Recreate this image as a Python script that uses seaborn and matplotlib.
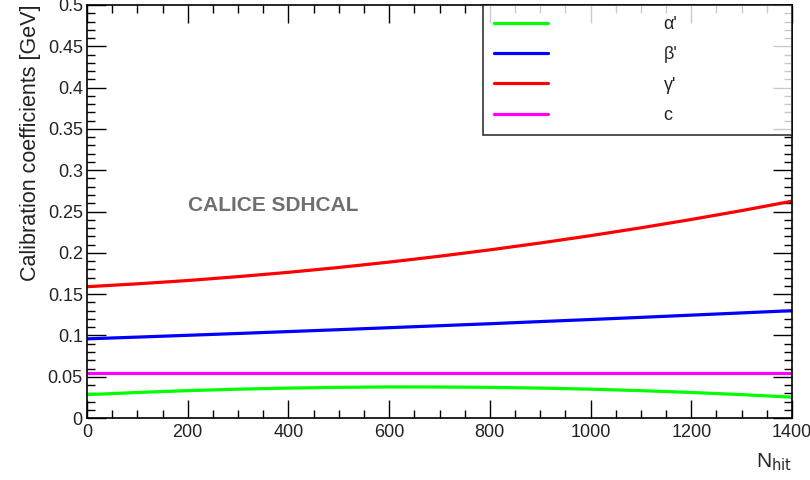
import matplotlib
matplotlib.use('Agg')
import matplotlib.pyplot as plt
from matplotlib.ticker import MultipleLocator
from matplotlib.lines import Line2D
import numpy as np
import pandas as pd
import seaborn as sns

# values
n_hit = [0, 100, 200, 300, 400, 500, 600, 700, 800, 900, 1000, 1100, 1200, 1300, 1400]
alpha = [0.0283, 0.0310, 0.0332, 0.0350, 0.0363, 0.0372, 0.0377, 0.0376,
         0.0372, 0.0363, 0.0350, 0.0332, 0.0310, 0.0284, 0.0253]
beta = [0.0959, 0.0980, 0.1002, 0.1024, 0.1047, 0.1070, 0.1094, 0.1118,
        0.1142, 0.1168, 0.1193, 0.1219, 0.1246, 0.1273, 0.1300]
gamma = [0.1590, 0.1625, 0.1665, 0.1712, 0.1764, 0.1823, 0.1888, 0.1959,
         0.2036, 0.2119, 0.2208, 0.2303, 0.2404, 0.2511, 0.2625]
c_const = [0.0549] * len(n_hit)

names = ["α'", "β'", "γ'", "c"]
colors = ['#00ff00', '#0000ff', '#ff0000', '#ff00ff']

df = pd.DataFrame({'N': n_hit, names[0]: alpha, names[1]: beta,
                   names[2]: gamma, names[3]: c_const})
dfm = df.melt('N', var_name='coef', value_name='value')

sns.set_style('ticks')
plt.rcParams['font.family'] = ['Liberation Sans', 'DejaVu Sans']

fig = plt.figure(figsize=(8.1, 4.8), dpi=100)
ax = fig.add_axes([0.1074, 0.129, 0.8704, 0.8606])

sns.lineplot(data=dfm, x='N', y='value', hue='coef', palette=colors,
             linewidth=2.3, legend=False, ax=ax)

ax.set_xlim(0, 1400)
ax.set_ylim(0, 0.5)
ax.xaxis.set_major_locator(MultipleLocator(200))
ax.xaxis.set_minor_locator(MultipleLocator(50))
ax.yaxis.set_major_locator(MultipleLocator(0.05))
ax.yaxis.set_minor_locator(MultipleLocator(0.01))
ax.set_xticklabels([str(int(v)) for v in ax.get_xticks()])
ax.set_yticklabels([f'{v:g}' for v in ax.get_yticks()])

ax.tick_params(which='both', direction='in', top=True, right=True,
               labelsize=13, colors='black', labelcolor='#222222')
ax.tick_params(which='major', length=14, width=1, pad=3)
ax.tick_params(which='minor', length=6, width=1)
ax.tick_params(axis='x', which='major', length=13, pad=4)
ax.tick_params(axis='x', which='minor', length=6)
for s in ax.spines.values():
    s.set_linewidth(1.2)
    s.set_color('black')

ax.set_xlabel(r'N$_{\mathrm{hit}}$', loc='right', fontsize=15, labelpad=8)
ax.set_ylabel('Calibration coefficients [GeV]', loc='top', fontsize=15.5,
              labelpad=5, color='#222222')

ax.text(200, 0.257, 'CALICE SDHCAL', fontsize=15, fontweight='bold',
        color='#707070', va='center', ha='left')

handles = [Line2D([0], [0], color=col, lw=2.3) for col in colors]
leg = ax.legend(handles, names, loc='upper left',
                bbox_to_anchor=(0.5617, 1.0, 0.4383, 0.0), mode='expand',
                ncol=1, frameon=True, fancybox=False, borderaxespad=0,
                handlelength=3.0, handletextpad=6.4, borderpad=0.6,
                labelspacing=0.74, fontsize=13)
leg.get_frame().set_edgecolor('black')
leg.get_frame().set_linewidth(1.2)
for t in leg.get_texts():
    t.set_color('#222222')

fig.savefig('out.png', dpi=100)
